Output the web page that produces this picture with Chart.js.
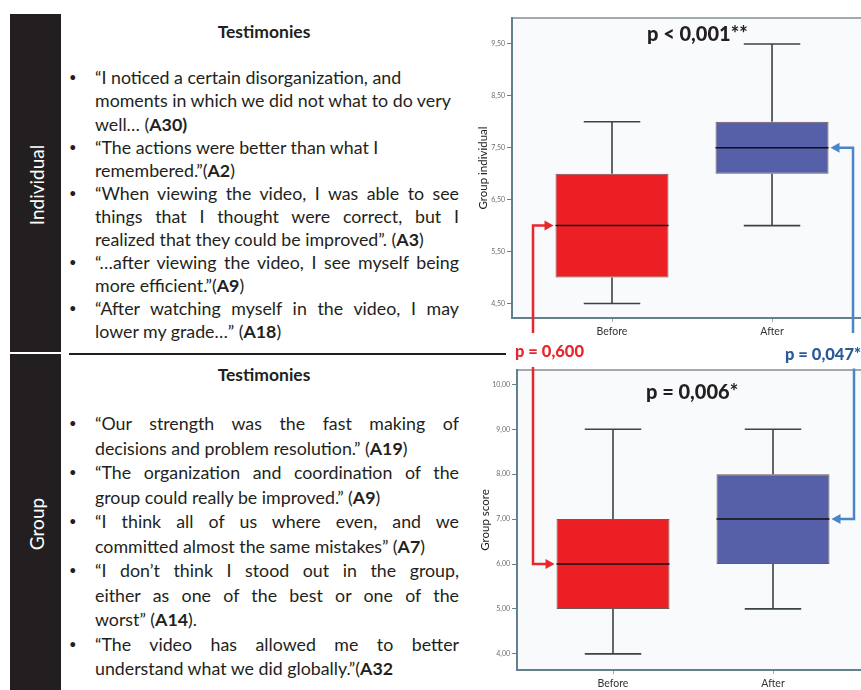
<!DOCTYPE html>
<html>
<head>
<meta charset="utf-8">
<script src="https://cdn.jsdelivr.net/npm/chart.js@4.4.0/dist/chart.umd.min.js"></script>
<style>
  html, body { margin: 0; padding: 0; background: #fff; }
  body { width: 861px; height: 690px; position: relative; overflow: hidden; font-family: Lato, 'Open Sans', sans-serif; color: #231f20; }
  .side { position: absolute; left: 10px; width: 51px; background: #231f20; }
  .vlab { position: absolute; color: #fff; font-size: 19px; white-space: nowrap; transform: translate(-50%, -50%) rotate(-90deg); }
  .head { position: absolute; font-weight: bold; font-size: 17.5px; white-space: nowrap; transform: translate(-50%, -50%); }
  .ln { position: absolute; left: 95px; width: 364px; white-space: nowrap; font-size: 17.8px; height: 22px; line-height: 22px; }
  .ln.j { text-align: justify; text-align-last: justify; }
  .bul { position: absolute; left: 69px; font-size: 13px; height: 22px; line-height: 22px; }
  .pv { position: absolute; font-weight: 900; white-space: nowrap; transform: translateY(-50%); z-index: 2; }
  .box { position: absolute; }
</style>
</head>
<body>
<div class="side" style="top:14px;height:676px"></div>
<div style="position:absolute;left:10px;top:352px;width:51px;height:2px;background:#fff"></div>
<div class="vlab" style="left:36px;top:185px">Individual</div>
<div class="vlab" style="left:36px;top:524px">Group</div>
<div style="position:absolute;left:69px;top:353px;width:437px;height:2px;background:#231f20"></div>
<div class="head" style="left:264px;top:31px">Testimonies</div>
<div class="head" style="left:264px;top:374px">Testimonies</div>
<div id="text"></div>

<div class="box" style="left:470px;top:0;width:391px;height:345px"><canvas id="indiv"></canvas></div>
<div class="box" style="left:470px;top:345px;width:391px;height:345px"><canvas id="group"></canvas></div>

<div class="pv" style="left:647px;top:33px;font-size:20px">p &lt; 0,001**</div>
<div class="pv" style="left:646px;top:391px;font-size:20px">p = 0,006*</div>
<div class="pv" style="left:515px;top:351px;font-size:16.5px;color:#e8262b">p = 0,600</div>
<div class="pv" style="left:779px;top:354px;font-size:16.5px;color:#2a5b97;background:#fff;padding:4px 0 5px 6px">p = 0,047*</div>

<script>
// testimonies, one entry per printed line: [bullet, justified, html]
const indivLines = [
  [1, 0, '“I noticed a certain disorganization, and'],
  [0, 0, 'moments in which we did not what to do very'],
  [0, 0, 'well… (<b>A30)</b>'],
  [1, 0, '“The actions were better than what I'],
  [0, 0, 'remembered.”(<b>A2</b>)'],
  [1, 1, '“When viewing the video, I was able to see'],
  [0, 1, 'things that I thought were correct, but I'],
  [0, 0, 'realized that they could be improved”. (<b>A3</b>)'],
  [1, 1, '“…after viewing the video, I see myself being'],
  [0, 0, 'more efficient.”(<b>A9</b>)'],
  [1, 1, '“After watching myself in the video, I may'],
  [0, 0, 'lower my grade…” (<b>A18</b>)']
]
const groupLines = [
  [1, 1, '“Our strength was the fast making of'],
  [0, 0, 'decisions and problem resolution.” (<b>A19</b>)'],
  [1, 1, '“The organization and coordination of the'],
  [0, 0, 'group could really be improved.” (<b>A9</b>)'],
  [1, 1, '“I think all of us where even, and we'],
  [0, 0, 'committed almost the same mistakes” (<b>A7</b>)'],
  [1, 1, '“I don’t think I stood out in the group,'],
  [0, 1, 'either as one of the best or one of the'],
  [0, 0, 'worst” (<b>A14</b>).'],
  [1, 1, '“The video has allowed me to better'],
  [0, 0, 'understand what we did globally.”(<b>A32</b>']
]

function writeLines (lines, start, step) {
  let html = ''
  lines.forEach((l, i) => {
    const top = Math.round(start + i * step - 11)
    if (l[0]) html += `<div class="bul" style="top:${top}px">•</div>`
    html += `<div class="ln${l[1] ? ' j' : ''}" style="top:${top}px">${l[2]}</div>`
  })
  document.getElementById('text').innerHTML += html
}
writeLines(indivLines, 77.3, 23.1)
writeLines(groupLines, 423.3, 24.5)

// chart data
const categories = ['Before', 'After']

const indivMin = [4.5, 6.0]
const indivQ1 = [5.0, 7.0]
const indivMedian = [6.0, 7.5]
const indivQ3 = [7.0, 8.0]
const indivMax = [8.0, 9.5]
const indivTicks = [4.5, 5.5, 6.5, 7.5, 8.5, 9.5]

const groupMin = [4, 5]
const groupQ1 = [5, 6]
const groupMedian = [6, 7]
const groupQ3 = [7, 8]
const groupMax = [9, 9]
const groupTicks = [4, 5, 6, 7, 8, 9, 10]

const boxColors = ['#ec1f24', '#5660a8']
const axisColor = '#62818d'

// whiskers, medians, plot background and the p-value arrows
const boxPlugin = {
  id: 'boxplot',
  beforeDraw (chart) {
    const { ctx, chartArea: a } = chart
    ctx.save()
    ctx.fillStyle = '#f9fafc'
    ctx.fillRect(a.left, a.top, a.right - a.left, a.bottom - a.top)
    ctx.strokeStyle = '#a0a9ae'
    ctx.lineWidth = 2
    ctx.beginPath()
    ctx.moveTo(a.left, a.top)
    ctx.lineTo(a.right, a.top)
    ctx.stroke()
    ctx.restore()
  },
  afterDatasetsDraw (chart, args, opts) {
    const { ctx, chartArea: a } = chart
    const y = chart.scales.y
    const s = opts.stats
    const bars = chart.getDatasetMeta(0).data
    ctx.save()
    bars.forEach((bar, i) => {
      const x = bar.x
      const w = bar.width
      const yMin = y.getPixelForValue(s.min[i])
      const yMax = y.getPixelForValue(s.max[i])
      ctx.strokeStyle = '#3a4448'
      ctx.lineWidth = 1.6
      ctx.beginPath()
      ctx.moveTo(x, y.getPixelForValue(s.q3[i]))
      ctx.lineTo(x, yMax)
      ctx.moveTo(x, y.getPixelForValue(s.q1[i]))
      ctx.lineTo(x, yMin)
      ctx.moveTo(x - w / 4, yMax)
      ctx.lineTo(x + w / 4, yMax)
      ctx.moveTo(x - w / 4, yMin)
      ctx.lineTo(x + w / 4, yMin)
      ctx.stroke()
      const yMed = y.getPixelForValue(s.median[i])
      ctx.strokeStyle = '#111'
      ctx.lineWidth = 1.5
      ctx.beginPath()
      ctx.moveTo(x - w / 2, yMed)
      ctx.lineTo(x + w / 2, yMed)
      ctx.stroke()
    })
    opts.arrows.forEach((ar) => {
      const bar = bars[ar.index]
      const dir = ar.dx < 0 ? 1 : -1
      const lineX = bar.x + ar.dx
      const tipX = bar.x - dir * (bar.width / 2 + 2)
      const yT = y.getPixelForValue(s.median[ar.index])
      const yEnd = ar.fromBottom ? a.bottom + ar.gap : a.top - ar.gap
      ctx.strokeStyle = ar.color
      ctx.fillStyle = ar.color
      ctx.lineWidth = 2.5
      ctx.beginPath()
      ctx.moveTo(lineX, yEnd)
      ctx.lineTo(lineX, yT)
      ctx.lineTo(tipX - dir * 7, yT)
      ctx.stroke()
      ctx.beginPath()
      ctx.moveTo(tipX, yT)
      ctx.lineTo(tipX - dir * 9, yT - 5)
      ctx.lineTo(tipX - dir * 9, yT + 5)
      ctx.closePath()
      ctx.fill()
    })
    ctx.restore()
  }
}

function boxChart (id, o) {
  return new Chart(document.getElementById(id), {
    type: 'bar',
    data: {
      datasets: [{
        data: categories.map((c, i) => ({ x: i, y: [o.q1[i], o.q3[i]] })),
        backgroundColor: boxColors,
        borderColor: '#6e5a52',
        borderWidth: 1,
        borderSkipped: false,
        barPercentage: 0.706,
        categoryPercentage: 1
      }]
    },
    options: {
      responsive: true,
      maintainAspectRatio: false,
      animation: false,
      events: [],
      layout: { padding: { top: o.padTop, right: 0, left: 0, bottom: 0 } },
      scales: {
        x: {
          type: 'linear',
          offset: false,
          bounds: 'data',
          min: o.xMin,
          max: o.xMax,
          afterBuildTicks: (sc) => { sc.ticks = categories.map((c, i) => ({ value: i })) },
          afterFit: (sc) => { sc.height = o.xHeight },
          ticks: {
            callback: (v) => categories[v],
            font: { family: 'Lato', size: 10.5 },
            color: '#333',
            padding: 3
          },
          grid: { offset: false, drawOnChartArea: false, tickLength: 4, color: '#9aabb2' },
          border: { color: axisColor, width: 2 }
        },
        y: {
          min: o.yMin,
          max: o.yMax,
          afterBuildTicks: (sc) => { sc.ticks = o.ticks.map((v) => ({ value: v })) },
          afterFit: (sc) => { sc.width = o.yWidth },
          ticks: {
            callback: (v) => v.toFixed(2).replace('.', ','),
            font: { family: 'Lato', size: 7 },
            color: '#6b6b6b',
            padding: 2
          },
          grid: { drawOnChartArea: false, tickLength: 5, color: axisColor },
          border: { color: axisColor, width: 2 },
          title: {
            display: true,
            text: o.title,
            font: { family: 'Lato', size: 11.5 },
            color: '#222',
            padding: { top: o.titlePad, bottom: 0 }
          }
        }
      },
      plugins: {
        legend: { display: false },
        tooltip: { enabled: false },
        boxplot: { stats: o, arrows: o.arrows }
      }
    },
    plugins: [boxPlugin]
  })
}

boxChart('indiv', {
  min: indivMin, q1: indivQ1, median: indivMedian, q3: indivQ3, max: indivMax,
  ticks: indivTicks, yMin: 4.22, yMax: 10.0, xMin: -0.625, xMax: 1.556,
  title: 'Group individual', titlePad: 6, padTop: 18, yWidth: 42, xHeight: 27,
  arrows: [
    { index: 0, dx: -79, color: '#e8262b', fromBottom: true, gap: 15 },
    { index: 1, dx: 81, color: '#4a86c5', fromBottom: true, gap: 15 }
  ]
})

boxChart('group', {
  min: groupMin, q1: groupQ1, median: groupMedian, q3: groupQ3, max: groupMax,
  ticks: groupTicks, yMin: 3.64, yMax: 10.32, xMin: -0.6, xMax: 1.55,
  title: 'Group score', titlePad: 8, padTop: 25, yWidth: 47, xHeight: 20,
  arrows: [
    { index: 0, dx: -80, color: '#e8262b', fromBottom: false, gap: 3 },
    { index: 1, dx: 81, color: '#4a86c5', fromBottom: false, gap: 2 }
  ]
})
</script>
</body>
</html>
